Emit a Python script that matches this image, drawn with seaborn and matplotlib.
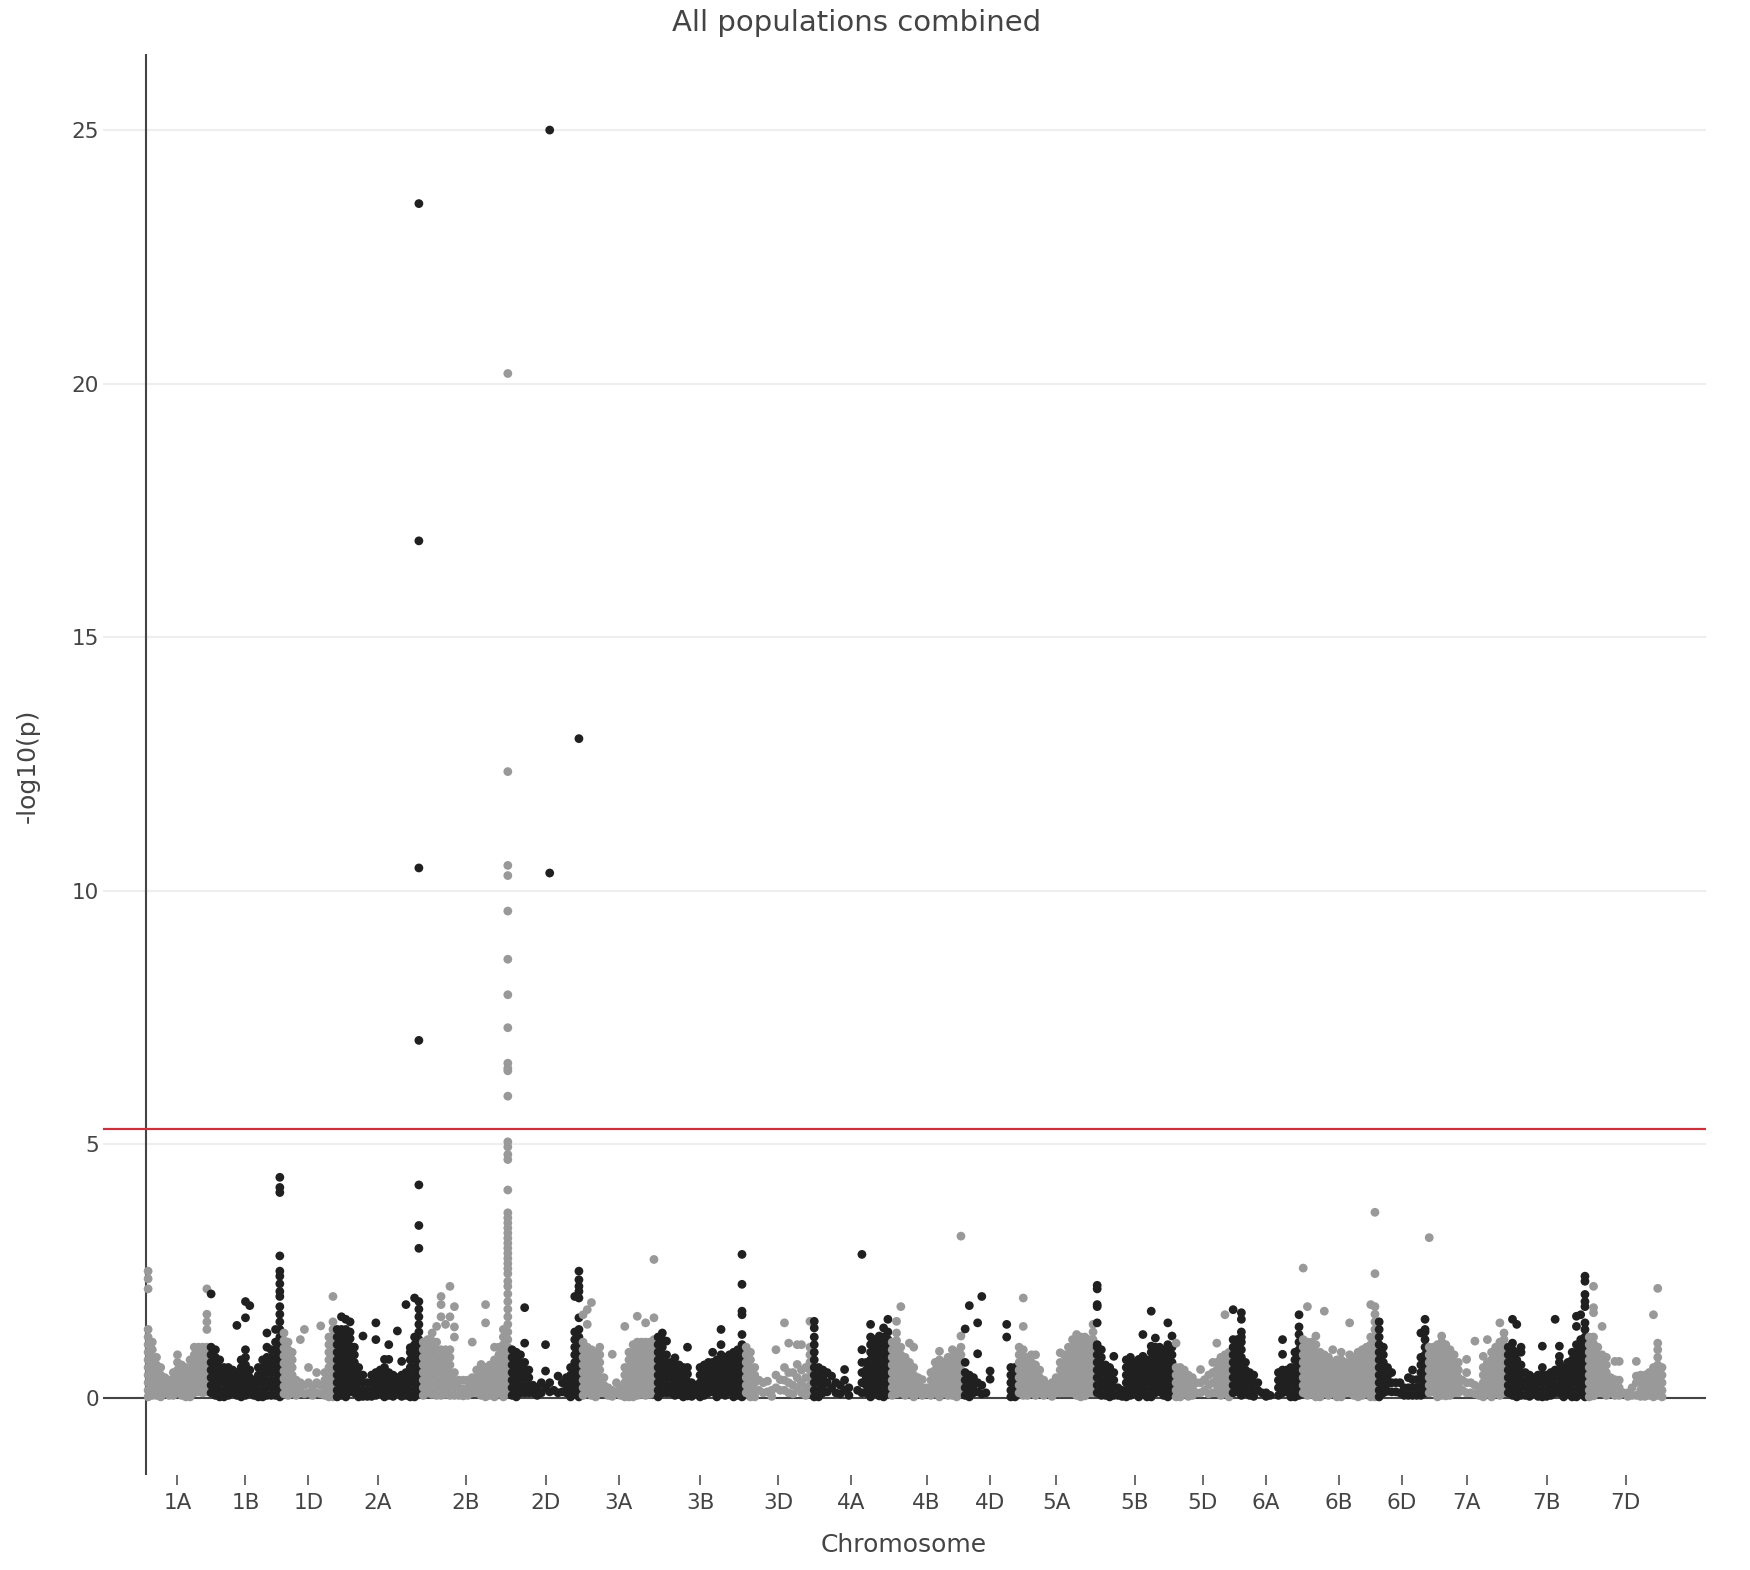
import pandas as pd
import matplotlib
matplotlib.use("Agg")
import matplotlib.pyplot as plt
import seaborn as sns

# Wheat chromosomes, in plotting order, and their lengths (Mb) as laid out on the x axis
chromosomes = ["1A", "1B", "1D", "2A", "2B", "2D", "3A", "3B", "3D", "4A", "4B",
               "4D", "5A", "5B", "5D", "6A", "6B", "6D", "7A", "7B", "7D"]
chrom_len = [590, 684, 497, 806, 834, 665, 703, 825, 637, 731, 684,
             506, 731, 740, 534, 656, 712, 469, 740, 759, 722]

# -log10(p). Each chromosome is cut into equal bins ("|"),
# every value in a bin is one marker at that position; "_" = no markers in the bin.
chr_1A = """2.5 2.35 2.15 1.35 1.2 1.05 0.9 0.75 0.6 0.45 0.3 0.15 0.02 | 1.1 0.95 0.8 0.65 0.5 0.35 0.2 0.05 |
0.8 0.65 0.5 0.35 0.2 0.05 | 0.6 0.45 0.3 0.15 0.02 | 0.4 0.25 0.1 | 0.35 0.2 0.05 | 0.5 0.35 0.2 0.05 |
0.85 0.7 0.55 0.4 0.25 0.1 | 0.65 0.5 0.35 0.2 0.05 | 0.6 0.45 0.3 0.15 0.02 | 0.75 0.6 0.45 0.3 0.15 0.02 |
1.0 0.85 0.7 0.55 0.4 0.25 0.1 | 1.0 0.87 0.72 0.57 0.42 0.27 0.12 | 1.0 0.85 0.7 0.55 0.4 0.25 0.1 |
2.15 1.65 1.5 1.35 1.0 0.87 0.72 0.57 0.42 0.27 0.12"""

chr_1B = """2.05 1.0 0.85 0.7 0.55 0.4 0.25 0.1 | 0.95 0.8 0.65 0.5 0.35 0.2 0.05 | 0.75 0.6 0.45 0.3 0.15 0.02 |
0.6 0.45 0.3 0.15 0.02 | 0.6 0.47 0.32 0.17 0.05 | 0.55 0.4 0.25 0.1 | 1.43 0.5 0.35 0.2 0.05 |
0.75 0.6 0.45 0.3 0.15 0.02 | 1.9 1.58 0.95 0.8 0.65 0.5 0.35 0.2 0.05 | 1.82 0.55 0.4 0.25 0.1 | 0.35 0.2 0.05 |
0.6 0.45 0.3 0.15 0.02 | 0.75 0.6 0.45 0.3 0.15 0.02 | 1.28 1.0 0.8 0.65 0.5 0.35 0.2 0.05 |
0.95 0.8 0.65 0.5 0.35 0.2 0.05 | 1.35 1.1 0.95 0.8 0.65 0.5 0.35 0.2 0.05 |
4.35 4.15 4.05 2.8 2.5 2.4 2.25 2.1 2.0 1.8 1.65 1.5 1.35 1.2 1.05 0.9 0.75 0.6 0.45 0.3 0.15 0.02"""

chr_1D = """1.28 1.13 0.98 0.83 0.68 0.53 0.38 0.23 0.08 | 1.1 0.95 0.8 0.65 0.5 0.35 0.2 0.05 |
0.9 0.75 0.6 0.45 0.3 0.15 | 0.35 0.2 0.05 | 1.15 0.3 0.12 | 1.35 0.25 0.08 | 0.6 0.3 0.1 | 0.2 0.05 |
0.5 0.3 0.1 | 1.42 0.25 0.08 | 0.5 0.35 0.2 0.05 | 1.2 1.05 0.9 0.75 0.6 0.45 0.3 0.15 0.02 |
2.0 1.5 1.35 1.2 1.05 0.9 0.75 0.6 0.45 0.3 0.15 0.02"""

chr_2A = """1.35 1.2 1.05 0.9 0.75 0.6 0.45 0.3 0.15 0.02 | 1.6 1.35 1.22 1.07 0.92 0.77 0.62 0.47 0.32 0.17 0.05 |
1.55 1.35 1.2 1.05 0.9 0.75 0.6 0.45 0.3 0.15 0.02 | 1.5 1.3 1.17 1.02 0.87 0.72 0.57 0.42 0.27 0.12 |
1.0 0.85 0.7 0.55 0.4 0.25 0.1 | 0.6 0.45 0.3 0.15 0.02 | 1.22 0.45 0.3 0.15 0.03 | 0.3 0.15 0.03 |
0.45 0.3 0.15 0.03 | 1.48 1.15 0.5 0.35 0.2 0.05 | 0.55 0.4 0.25 0.1 | 0.76 0.6 0.45 0.3 0.15 0.02 |
1.05 0.76 0.5 0.35 0.2 0.05 | 0.45 0.3 0.15 0.03 | 1.32 0.4 0.25 0.1 | 0.72 0.45 0.3 0.15 0.03 |
1.84 0.5 0.35 0.2 0.05 | 0.99 0.9 0.75 0.6 0.45 0.3 0.15 0.02 | 1.97 1.2 1.05 0.9 0.75 0.6 0.45 0.3 0.15 0.02 |
23.55 16.9 10.45 7.05 4.2 3.4 2.95 1.9 1.75 1.6 1.45 1.3 1.15 1.0 0.85 0.7 0.55 0.4 0.25 0.1"""

chr_2B = """1.1 0.95 0.8 0.65 0.5 0.35 0.2 0.05 | 1.15 1.0 0.85 0.7 0.55 0.4 0.25 0.1 |
1.28 1.12 0.97 0.82 0.67 0.52 0.37 0.22 0.07 | 1.41 1.1 0.95 0.8 0.65 0.5 0.35 0.2 0.05 |
2.0 1.84 1.6 0.95 0.8 0.65 0.5 0.35 0.2 0.05 | 1.45 0.95 0.82 0.67 0.52 0.37 0.22 0.07 |
2.2 1.6 0.95 0.8 0.65 0.5 0.35 0.2 0.05 | 1.8 1.4 1.2 0.5 0.35 0.2 0.05 | 0.35 0.2 0.05 | 0.35 0.18 0.04 |
0.35 0.2 0.05 | 1.1 0.4 0.25 0.1 | 0.55 0.4 0.25 0.1 | 0.66 0.5 0.35 0.2 0.05 | 1.84 1.48 0.6 0.45 0.3 0.15 0.02 |
0.65 0.5 0.35 0.2 0.05 | 1.0 0.75 0.6 0.45 0.3 0.15 0.02 | 1.0 0.85 0.7 0.55 0.4 0.25 0.1 |
1.35 1.2 1.05 0.9 0.75 0.6 0.45 0.3 0.15 0.02 |
20.2 12.35 10.5 10.3 9.6 8.65 7.95 7.3 6.6 6.5 6.45 5.95 5.05 4.95 4.8 4.7 4.1 3.65 3.55 3.45 3.35 3.25
3.15 3.05 2.95 2.85 2.75 2.65 2.55 2.45 2.3 2.2 2.05 1.9 1.75 1.6 1.45 1.3 1.15 1.0 0.85 0.7 0.55 0.4 0.25 0.1"""

chr_2D = """0.95 0.8 0.65 0.5 0.35 0.2 0.05 | 0.9 0.75 0.6 0.45 0.3 0.15 0.02 | 0.85 0.7 0.55 0.4 0.25 0.1 |
1.78 1.08 0.7 0.55 0.4 0.25 0.1 | 0.55 0.4 0.25 0.1 | 0.25 0.1 | 0.2 0.05 | 0.3 0.1 | 1.05 0.53 0.2 |
25.0 10.35 0.3 0.12 | 0.15 | 0.43 0.1 | 0.3 0.12 | 0.4 0.25 0.1 | 0.6 0.45 0.3 0.15 0.02 |
2.0 1.3 1.15 1.0 0.85 0.7 0.55 0.4 0.25 0.1 |
13.0 2.5 2.33 2.2 2.1 1.97 1.58 1.35 1.2 1.05 0.9 0.75 0.6 0.45 0.3 0.15 0.02"""

chr_3A = """1.64 1.1 0.95 0.8 0.65 0.5 0.35 0.2 0.05 | 1.74 1.45 1.0 0.85 0.7 0.55 0.4 0.25 0.1 |
1.88 0.95 0.8 0.65 0.5 0.35 0.2 0.05 | 0.9 0.75 0.6 0.45 0.3 0.15 0.02 | 1.0 0.85 0.7 0.55 0.4 0.25 0.1 |
0.4 0.25 0.1 | 0.2 0.05 | 0.86 0.15 0.03 | 0.3 0.12 | 0.2 0.05 | 1.41 0.6 0.45 0.3 0.15 0.02 |
0.9 0.75 0.6 0.45 0.3 0.15 0.02 | 1.05 0.9 0.75 0.6 0.45 0.3 0.15 0.02 | 1.61 1.1 0.95 0.8 0.65 0.5 0.35 0.2 0.05 |
1.1 0.97 0.82 0.67 0.52 0.37 0.22 0.07 | 1.48 1.1 0.95 0.8 0.65 0.5 0.35 0.2 0.05 |
1.1 0.97 0.82 0.67 0.52 0.37 0.22 0.07 | 2.73 1.58 1.15 1.0 0.85 0.7 0.55 0.4 0.25 0.1"""

chr_3B = """1.2 1.05 0.9 0.75 0.6 0.45 0.3 0.15 0.02 | 1.28 1.15 1.0 0.85 0.7 0.55 0.4 0.25 0.1 |
1.12 0.85 0.7 0.55 0.4 0.25 0.1 | 0.7 0.55 0.4 0.25 0.1 | 0.79 0.65 0.5 0.35 0.2 0.05 | 0.65 0.52 0.37 0.22 0.07 |
0.6 0.45 0.3 0.15 0.02 | 1.0 0.6 0.47 0.32 0.17 0.04 | 0.3 0.15 0.03 | 0.25 0.1 | 0.6 0.45 0.3 0.15 0.02 |
0.65 0.5 0.35 0.2 0.05 | 0.7 0.55 0.4 0.25 0.1 | 0.9 0.7 0.57 0.42 0.27 0.12 | 0.75 0.6 0.45 0.3 0.15 0.02 |
1.35 1.05 0.85 0.7 0.55 0.4 0.25 0.1 | 0.8 0.65 0.5 0.35 0.2 0.05 | 0.85 0.72 0.57 0.42 0.27 0.12 |
0.9 0.75 0.6 0.45 0.3 0.15 0.02 | 0.95 0.8 0.65 0.5 0.35 0.2 0.05 |
2.83 2.24 1.71 1.64 1.25 1.05 0.9 0.75 0.6 0.45 0.3 0.15 0.02"""

chr_3D = """1.0 0.85 0.7 0.55 0.4 0.25 0.1 | 0.9 0.75 0.6 0.45 0.3 0.15 0.02 | 0.6 0.45 0.3 0.15 0.02 |
0.35 0.15 | 0.3 0.1 | 0.33 0.12 | 0.15 0.03 | 0.95 0.45 0.2 | 0.36 0.15 | 1.48 0.6 0.35 0.15 |
1.08 0.5 0.3 0.1 | 0.5 0.25 0.08 | 1.05 0.66 0.4 0.2 | 1.05 0.55 0.3 0.1 | 0.6 0.4 0.2 0.05 |
1.51 1.0 0.85 0.7 0.55 0.4 0.25 0.1"""

chr_4A = """1.51 1.38 1.2 1.05 0.9 0.75 0.6 0.45 0.3 0.15 0.02 | 0.6 0.45 0.3 0.15 0.02 | 0.55 0.4 0.25 0.1 |
0.5 0.3 0.12 | 0.43 0.2 | 0.3 0.1 | 0.25 0.08 | 0.56 0.35 0.15 | 0.2 0.05 | _ | 0.15 |
2.83 0.95 0.7 0.5 0.3 0.1 | 0.7 0.55 0.4 0.25 0.1 | 1.45 1.2 1.05 0.9 0.75 0.6 0.45 0.3 0.15 0.02 |
1.15 1.0 0.85 0.7 0.55 0.4 0.25 0.1 | 1.22 1.07 0.92 0.77 0.62 0.47 0.32 0.17 0.04 |
1.38 1.2 1.05 0.9 0.75 0.6 0.45 0.3 0.15 0.02 | 1.55 1.3 1.15 1.0 0.85 0.7 0.55 0.4 0.25 0.1"""

chr_4B = """1.1 0.95 0.8 0.65 0.5 0.35 0.2 0.05 | 1.51 1.28 1.13 0.98 0.83 0.68 0.53 0.38 0.23 0.08 |
1.8 1.0 0.85 0.7 0.55 0.4 0.25 0.1 | 0.8 0.65 0.5 0.35 0.2 0.05 | 1.08 0.7 0.55 0.4 0.25 0.1 |
1.0 0.6 0.45 0.3 0.15 0.02 | 0.4 0.25 0.1 | 0.36 0.2 0.05 | 0.2 0.08 | 0.5 0.35 0.2 0.05 |
0.7 0.55 0.4 0.25 0.1 | 0.92 0.75 0.6 0.45 0.3 0.15 0.02 | 0.7 0.55 0.4 0.25 0.1 | 0.8 0.65 0.5 0.35 0.2 0.05 |
0.95 0.8 0.65 0.5 0.35 0.2 0.05 | 0.9 0.75 0.6 0.45 0.3 0.15 0.02 | 3.19 1.22 1.0 0.85 0.7 0.55 0.4 0.25 0.1"""

chr_4D = """1.36 0.7 0.5 0.35 0.2 0.05 | 1.82 0.45 0.3 0.15 0.02 | 0.4 0.25 0.1 | 1.48 0.87 0.3 0.12 |
2.0 0.25 0.08 | 0.1 | 0.53 0.37 | _ | _ | _ | 1.45 1.2 | 0.6 0.45 0.3 0.15 0.02 | 0.6 0.45 0.3 0.15 0.02"""

chr_5A = """1.0 0.85 0.7 0.55 0.4 0.25 0.1 | 1.97 1.41 0.95 0.8 0.65 0.5 0.35 0.2 0.05 | 0.8 0.65 0.5 0.35 0.2 0.05 |
0.85 0.7 0.55 0.4 0.25 0.1 | 0.85 0.65 0.5 0.35 0.2 0.05 | 0.55 0.4 0.25 0.1 | 0.35 0.2 0.05 | 0.25 0.1 |
0.3 0.15 0.03 | 0.4 0.25 0.1 | 0.89 0.7 0.55 0.4 0.25 0.1 | 0.85 0.7 0.55 0.4 0.25 0.1 |
1.0 0.85 0.7 0.55 0.4 0.25 0.1 | 1.15 1.0 0.85 0.7 0.55 0.4 0.25 0.1 | 1.25 1.1 0.95 0.8 0.65 0.5 0.35 0.2 0.05 |
1.2 1.05 0.9 0.75 0.6 0.45 0.3 0.15 0.02 | 1.2 1.07 0.92 0.77 0.62 0.47 0.32 0.17 0.04 |
1.15 1.0 0.85 0.7 0.55 0.4 0.25 0.1 | 1.45 1.3 1.15 1.0 0.85 0.7 0.55 0.4 0.25 0.1"""

chr_5B = """2.22 2.15 1.84 1.8 1.48 1.05 1.0 0.85 0.7 0.55 0.4 0.25 0.1 | 0.95 0.8 0.65 0.5 0.35 0.2 0.05 |
0.65 0.5 0.35 0.2 0.05 | 0.6 0.45 0.3 0.15 0.02 | 0.82 0.5 0.35 0.2 0.05 | 0.2 0.05 | 0.15 0.03 |
0.75 0.6 0.45 0.3 0.15 0.02 | 0.8 0.65 0.5 0.35 0.2 0.05 | 0.7 0.55 0.4 0.25 0.1 | 0.76 0.6 0.45 0.3 0.15 0.02 |
1.25 0.82 0.67 0.52 0.37 0.22 0.07 | 0.75 0.6 0.45 0.3 0.15 0.02 | 1.71 1.02 0.9 0.75 0.6 0.45 0.3 0.15 0.02 |
1.18 1.0 0.85 0.7 0.55 0.4 0.25 0.1 | 1.0 0.87 0.72 0.57 0.42 0.27 0.12 | 0.95 0.8 0.65 0.5 0.35 0.2 0.05 |
1.48 1.05 0.9 0.75 0.6 0.45 0.3 0.15 0.02 | 1.22 1.0 0.85 0.7 0.55 0.4 0.25 0.1"""

chr_5D = """1.08 0.6 0.45 0.3 0.15 0.02 | 0.6 0.45 0.3 0.15 0.02 | 0.55 0.4 0.25 0.1 | 0.45 0.3 0.15 0.03 |
0.4 0.2 0.05 | 0.3 0.1 | 0.56 0.3 0.1 | 0.36 0.15 | 0.45 0.25 0.08 | 0.7 0.5 0.3 0.1 |
1.08 0.7 0.55 0.4 0.25 0.1 | 0.8 0.65 0.5 0.35 0.2 0.05 | 1.64 0.85 0.7 0.55 0.4 0.25 0.1 |
0.9 0.75 0.6 0.45 0.3 0.15 0.02"""

chr_6A = """1.74 1.15 1.0 0.85 0.7 0.55 0.4 0.25 0.1 | 1.15 1.02 0.87 0.72 0.57 0.42 0.27 0.12 |
1.68 1.55 1.3 1.2 1.1 0.95 0.8 0.65 0.5 0.35 0.2 0.05 | 0.7 0.55 0.4 0.25 0.1 | 0.5 0.35 0.2 0.05 |
0.45 0.3 0.15 0.03 | 0.3 0.15 | 0.1 | 0.1 0.03 | 0.05 | _ | 0.5 0.35 0.2 0.05 | 1.15 0.86 0.55 0.4 0.25 0.1 |
0.55 0.42 0.27 0.12 | 0.6 0.45 0.3 0.15 0.02 | 0.9 0.75 0.6 0.45 0.3 0.15 0.02 |
1.64 1.4 1.25 1.1 0.95 0.8 0.65 0.5 0.35 0.2 0.05"""

chr_6B = """2.56 1.15 1.0 0.85 0.7 0.55 0.4 0.25 0.1 | 1.8 1.1 0.95 0.8 0.65 0.5 0.35 0.2 0.05 |
1.1 0.97 0.82 0.67 0.52 0.37 0.22 0.07 | 1.22 1.05 0.9 0.75 0.6 0.45 0.3 0.15 0.02 |
0.9 0.75 0.6 0.45 0.3 0.15 0.02 | 1.71 0.85 0.7 0.55 0.4 0.25 0.1 | 0.8 0.65 0.5 0.35 0.2 0.05 |
0.95 0.7 0.55 0.4 0.25 0.1 | 0.75 0.6 0.45 0.3 0.15 0.02 | 0.9 0.75 0.6 0.45 0.3 0.15 0.02 |
0.7 0.55 0.4 0.25 0.1 | 1.48 0.85 0.7 0.55 0.4 0.25 0.1 | 0.8 0.65 0.5 0.35 0.2 0.05 |
0.9 0.75 0.6 0.45 0.3 0.15 0.02 | 0.95 0.8 0.65 0.5 0.35 0.2 0.05 | 1.0 0.85 0.7 0.55 0.4 0.25 0.1 |
1.84 1.2 1.05 0.9 0.75 0.6 0.45 0.3 0.15 0.02 |
3.66 2.45 1.8 1.65 1.5 1.35 1.2 1.05 0.9 0.75 0.6 0.45 0.3 0.15 0.02"""

chr_6D = """1.5 1.35 1.2 1.05 0.9 0.75 0.6 0.45 0.3 0.15 0.02 | 1.0 0.85 0.7 0.55 0.4 0.25 0.1 | 0.6 0.43 0.28 0.13 |
0.5 0.3 0.12 | 0.3 0.12 | 0.3 0.1 | 0.2 0.05 | 0.4 0.2 0.05 | 0.55 0.36 0.2 0.05 | 0.36 0.2 0.05 |
1.28 0.8 0.65 0.5 0.35 0.2 0.05 | 1.55 1.35 1.3 1.15 1.0 0.85 0.7 0.55 0.4 0.25 0.1"""

chr_7A = """3.16 1.0 0.85 0.7 0.55 0.4 0.25 0.1 | 1.0 0.87 0.72 0.57 0.42 0.27 0.12 | 1.05 0.9 0.75 0.6 0.45 0.3 0.15 0.02 |
1.22 1.1 0.95 0.8 0.65 0.5 0.35 0.2 0.05 | 1.05 0.92 0.77 0.62 0.47 0.32 0.17 0.04 |
0.95 0.8 0.65 0.5 0.35 0.2 0.05 | 0.85 0.7 0.55 0.4 0.25 0.1 | 0.7 0.55 0.4 0.25 0.1 | 0.35 0.15 |
0.76 0.5 0.3 0.1 | 0.3 0.1 | 1.12 0.25 0.08 | 0.2 0.05 | 0.82 0.6 0.45 0.3 0.15 0.02 |
1.15 0.7 0.55 0.4 0.25 0.1 | 0.9 0.75 0.6 0.45 0.3 0.15 0.02 | 1.0 0.85 0.7 0.55 0.4 0.25 0.1 |
1.48 1.1 0.95 0.8 0.65 0.5 0.35 0.2 0.05 | 1.28 1.15 1.0 0.85 0.7 0.55 0.4 0.25 0.1"""

chr_7B = """1.0 0.85 0.7 0.55 0.4 0.25 0.1 | 1.55 1.08 0.95 0.8 0.65 0.5 0.35 0.2 0.05 |
1.45 0.9 0.75 0.6 0.45 0.3 0.15 0.02 | 1.0 0.9 0.65 0.5 0.35 0.2 0.05 | 0.5 0.35 0.2 0.05 |
0.45 0.3 0.15 0.03 | 0.4 0.25 0.1 | 0.45 0.3 0.15 0.03 | 1.02 0.6 0.45 0.3 0.15 0.02 | 0.45 0.3 0.15 0.03 |
0.5 0.35 0.2 0.05 | 1.55 0.55 0.4 0.25 0.1 | 1.02 0.82 0.7 0.55 0.4 0.25 0.1 | 0.6 0.45 0.3 0.15 0.02 |
0.7 0.55 0.4 0.25 0.1 | 0.9 0.75 0.6 0.45 0.3 0.15 0.02 | 1.61 1.41 1.05 0.9 0.75 0.6 0.45 0.3 0.15 0.02 |
1.64 1.15 1.0 0.85 0.7 0.55 0.4 0.25 0.1 |
2.4 2.3 2.04 1.9 1.8 1.48 1.35 1.2 1.05 0.9 0.75 0.6 0.45 0.3 0.15 0.02"""

chr_7D = """1.2 1.05 0.9 0.75 0.6 0.45 0.3 0.15 0.02 | 2.2 1.78 1.68 1.2 1.07 0.92 0.77 0.62 0.47 0.32 0.17 0.04 |
1.0 0.85 0.7 0.55 0.4 0.25 0.1 | 1.41 0.85 0.7 0.55 0.4 0.25 0.1 | 0.8 0.65 0.5 0.35 0.2 0.05 |
0.4 0.25 0.1 | 0.72 0.36 0.2 0.05 | 0.72 0.35 0.2 0.05 | 0.1 | 0.1 0.03 | 0.2 0.05 | 0.72 0.43 0.3 0.05 |
0.45 0.3 0.15 0.03 | 0.45 0.3 0.15 0.03 | 0.5 0.35 0.2 0.05 | 1.64 0.6 0.45 0.3 0.15 0.02 |
2.16 1.08 0.95 0.8 0.65 0.5 0.35 0.2 0.05 | 0.6 0.45 0.3 0.15 0.02"""

chrom_bins = [chr_1A, chr_1B, chr_1D, chr_2A, chr_2B, chr_2D, chr_3A, chr_3B, chr_3D,
              chr_4A, chr_4B, chr_4D, chr_5A, chr_5B, chr_5D, chr_6A, chr_6B, chr_6D,
              chr_7A, chr_7B, chr_7D]

significance = 5.3
y_ticks = [0, 5, 10, 15, 20, 25]

# build long table: one row per marker, cumulative genome position
rows = []
tick_pos = []
offset = 0
for i, (name, length, text) in enumerate(zip(chromosomes, chrom_len, chrom_bins)):
    bins = text.split("|")
    step = length / len(bins)
    for j, b in enumerate(bins):
        b = b.strip()
        if b == "_":
            continue
        pos = offset + (j + 0.5) * step
        for v in b.split():
            rows.append((name, pos, float(v), "odd" if i % 2 == 0 else "even"))
    tick_pos.append(offset + length / 2)
    offset += length

df = pd.DataFrame(rows, columns=["chrom", "pos", "logp", "group"])

sns.set_style("white")
plt.rcParams["font.family"] = ["DejaVu Sans"]
text_col = "#444444"

fig = plt.figure(figsize=(17.5, 15.7), dpi=100)
ax = fig.add_axes([103 / 1750, 1 - 1475 / 1570, 1603 / 1750, 1421 / 1570])

ax.grid(axis="y", color="#eeeeee", linewidth=1.5, zorder=0)
ax.axhline(0, color="#444444", linewidth=1.5, zorder=0.8)
ax.axvline(0, color="#444444", linewidth=1.5, zorder=0.8)

sns.scatterplot(data=df, x="pos", y="logp", hue="group",
                palette={"odd": "#999999", "even": "#202020"},
                s=40, linewidth=0, legend=False, ax=ax, zorder=2)

ax.axhline(significance, color="#c8323a", linewidth=1.6, zorder=3)

ax.set_xlim(-403, 14617)
ax.set_ylim(-1.52, 26.5)
ax.set_yticks(y_ticks)
ax.set_yticklabels([str(t) for t in y_ticks])
ax.set_xticks(tick_pos)
ax.set_xticklabels(chromosomes)
ax.tick_params(axis="y", length=0, pad=3, labelsize=15.5, labelcolor=text_col)
ax.tick_params(axis="x", length=7, width=1.1, color=text_col, pad=6,
               labelsize=15.5, labelcolor=text_col, direction="out", bottom=True)
ax.grid(axis="x", visible=False)
for sp in ax.spines.values():
    sp.set_visible(False)
ax.set_xlabel("")
ax.set_ylabel("")

fig.text(857 / 1750, 1 - 23 / 1570, "All populations combined", ha="center", va="center",
         fontsize=21, color=text_col)
fig.text(904 / 1750, 1 - 1545 / 1570, "Chromosome", ha="center", va="center",
         fontsize=18, color=text_col)
fig.text(28 / 1750, 1 - 766 / 1570, "-log10(p)", ha="center", va="center",
         rotation=90, fontsize=18, color=text_col)

fig.savefig("out.png", dpi=100)
